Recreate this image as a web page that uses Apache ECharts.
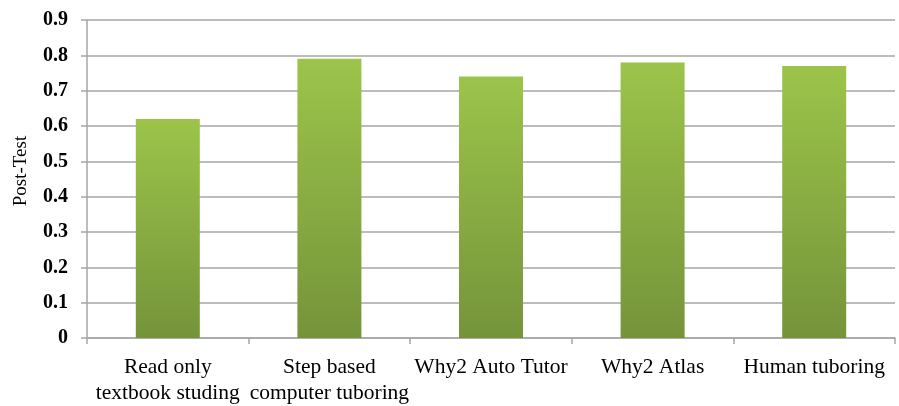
<!DOCTYPE html>
<html>
<head>
<meta charset="utf-8">
<script src="https://cdn.jsdelivr.net/npm/echarts@6/dist/echarts.min.js"></script>
<style>
  html, body { margin: 0; padding: 0; background: #fff; }
  #chart { width: 899px; height: 406px; }
</style>
</head>
<body>
<div id="chart"></div>
<script>
const categories = [
  "Read only\ntextbook studing",
  "Step based\ncomputer tuboring",
  "Why2 Auto Tutor",
  "Why2 Atlas",
  "Human tuboring"
];
const postTest = [0.62, 0.79, 0.74, 0.78, 0.77];
const yTicks = { min: 0, max: 0.9, step: 0.1 };

const chart = echarts.init(document.getElementById("chart"));
chart.setOption({
  animation: false,
  textStyle: { fontFamily: "Liberation Serif" },
  grid: { left: 87, right: 4, top: 20, bottom: 68, outerBoundsMode: "none", containLabel: false },
  xAxis: {
    type: "category",
    data: categories,
    axisLine: { lineStyle: { color: "#a6a6a6", width: 1.5 } },
    axisTick: { show: true, length: 6, lineStyle: { color: "#a6a6a6", width: 1.5 } },
    axisLabel: {
      color: "#000",
      fontSize: 21.5,
      lineHeight: 26,
      margin: 16,
      interval: 0
    }
  },
  yAxis: {
    type: "value",
    min: yTicks.min,
    max: yTicks.max,
    interval: yTicks.step,
    name: "Post-Test",
    nameLocation: "middle",
    nameGap: 56,
    nameTextStyle: { color: "#000", fontSize: 19, padding: [0, 0, 0, 16] },
    axisLine: { show: true, lineStyle: { color: "#a6a6a6", width: 1.5 } },
    axisTick: { show: true, length: 6, lineStyle: { color: "#a6a6a6", width: 1.5 } },
    splitLine: { lineStyle: { color: "#a6a6a6", width: 1.5 } },
    axisLabel: {
      color: "#000",
      fontSize: 20,
      fontWeight: "bold",
      margin: 19,
      formatter: v => (Math.round(v * 10) / 10).toString()
    }
  },
  series: [{
    type: "bar",
    data: postTest,
    barWidth: 64,
    itemStyle: {
      color: new echarts.graphic.LinearGradient(0, 0, 0, 1, [
        { offset: 0, color: "#9cc44a" },
        { offset: 1, color: "#75943a" }
      ])
    }
  }]
});
</script>
</body>
</html>
